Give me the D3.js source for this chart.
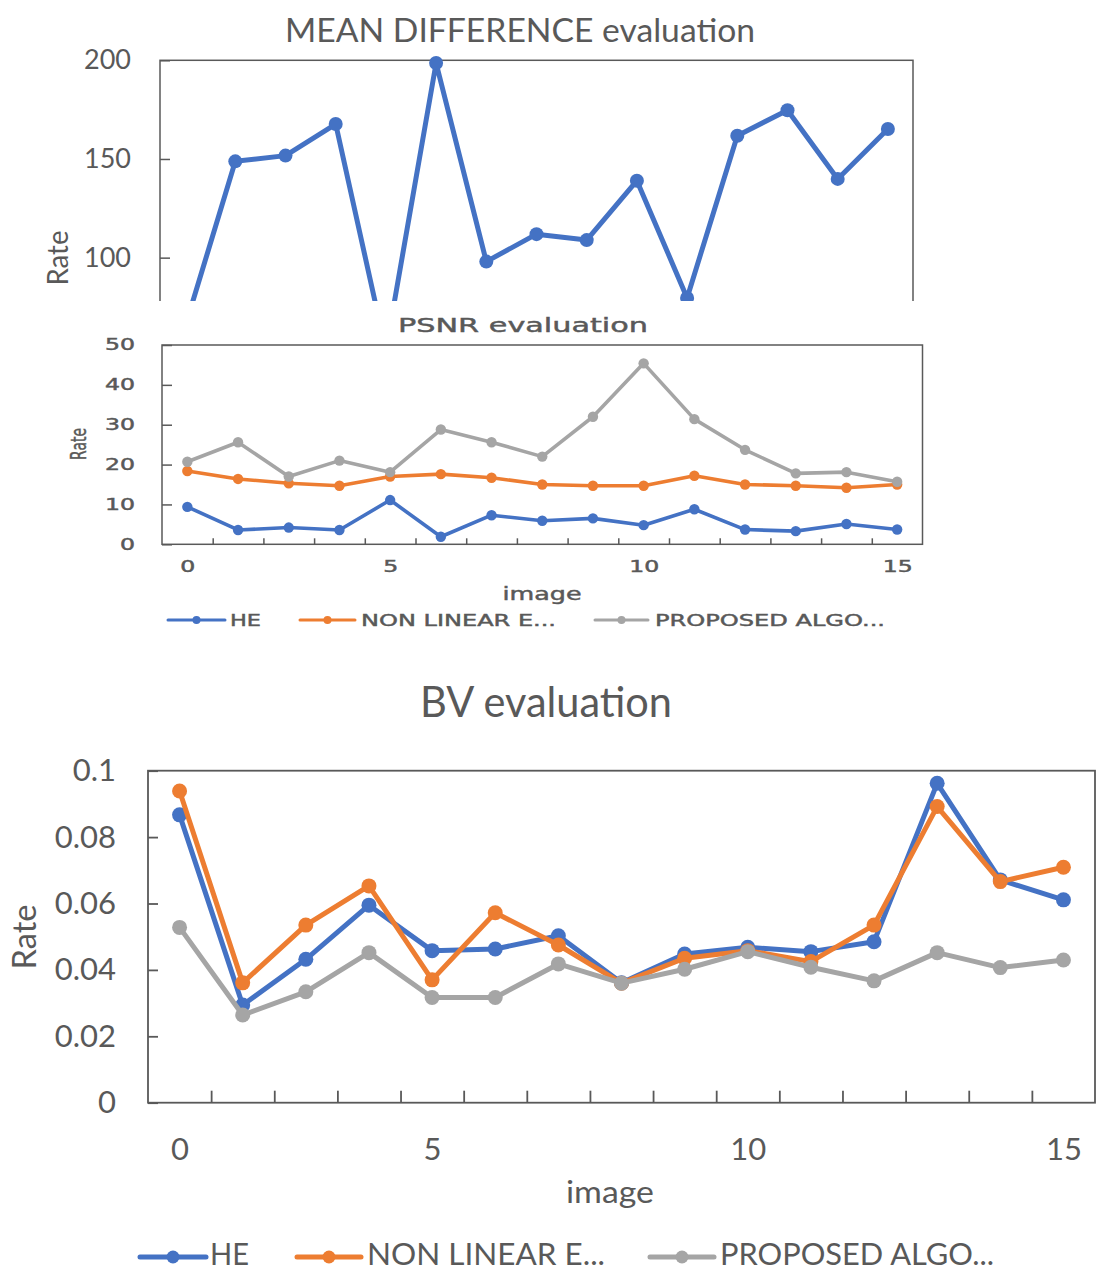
<!DOCTYPE html>
<html>
<head>
<meta charset="utf-8">
<script src="https://cdn.jsdelivr.net/npm/d3@7/dist/d3.min.js"></script>
<style>
  html, body { margin: 0; padding: 0; background: #fff; }
  svg { display: block; }
</style>
</head>
<body>
<svg id="chart" width="1097" height="1271"></svg>
<script>
// categories (image index) and the few that carry a label
const images = [0, 1, 2, 3, 4, 5, 6, 7, 8, 9, 10, 11, 12, 13, 14];
const labelledImages = [0, 4, 9, 14];
const imageLabels = ["0", "5", "10", "15"];

const seriesNames = ["HE", "NON LINEAR E...", "PROPOSED ALGO..."];
const seriesColors = ["#4472C4", "#ED7D31", "#A5A5A5"];

// MEAN DIFFERENCE (only the upper part of this chart is in the picture)
const meanDiffHE = [65, 148.8, 151.7, 167.7, 53, 198.6, 98, 111.9, 108.9, 139, 79.6, 161.8, 174.7, 139.9, 165.2];
const meanDiffRange = [0, 200];
const meanDiffTicks = [100, 150, 200];
const meanDiffTickLabels = ["100", "150", "200"];

// PSNR
const psnrHE = [9.4, 3.6, 4.2, 3.6, 11.1, 1.9, 7.3, 5.9, 6.5, 4.8, 8.8, 3.7, 3.3, 5.1, 3.7];
const psnrNL = [18.4, 16.4, 15.3, 14.7, 17.0, 17.6, 16.7, 15.0, 14.7, 14.7, 17.2, 15.0, 14.7, 14.2, 15.0];
const psnrPR = [20.7, 25.6, 17.0, 21.0, 18.1, 28.8, 25.6, 22.0, 32.0, 45.4, 31.4, 23.7, 17.8, 18.1, 15.7];
const psnrRange = [0, 50];
const psnrTicks = [0, 10, 20, 30, 40, 50];
const psnrTickLabels = ["0", "10", "20", "30", "40", "50"];

// BV
const bvHE = [0.0867, 0.0294, 0.0432, 0.0595, 0.0458, 0.0463, 0.0503, 0.0361, 0.0448, 0.0468, 0.0455, 0.0485, 0.0962, 0.0671, 0.0611];
const bvNL = [0.0939, 0.0361, 0.0535, 0.0653, 0.037, 0.0572, 0.0475, 0.036, 0.0435, 0.0458, 0.0425, 0.0535, 0.0892, 0.0666, 0.0709];
const bvPR = [0.0528, 0.0264, 0.0334, 0.0452, 0.0317, 0.0317, 0.0418, 0.036, 0.0402, 0.0455, 0.0408, 0.0367, 0.0452, 0.0407, 0.043];
const bvRange = [0, 0.1];
const bvTicks = [0, 0.02, 0.04, 0.06, 0.08, 0.1];
const bvTickLabels = ["0", "0.02", "0.04", "0.06", "0.08", "0.1"];

const svg = d3.select("#chart");
const textColor = "#595959";
const frameColor = "#595959";

// squeeze/stretch a text to a measured width
const fitText = (sel, width) => {
  if (width) sel.attr("textLength", width).attr("lengthAdjust", "spacingAndGlyphs");
};

const drawPanel = (p) => {
  const g = svg.append("g");
  if (p.clipBottom) {
    svg.append("clipPath").attr("id", p.id + "-clip")
      .append("rect")
      .attr("x", 0).attr("y", 0)
      .attr("width", 1097).attr("height", p.clipBottom);
    g.attr("clip-path", `url(#${p.id}-clip)`);
  }

  const x = d3.scaleLinear()
              .domain([-0.5, images.length - 0.5])
              .range([p.left, p.right]);
  const y = d3.scaleLinear()
              .domain(p.yDomain)
              .range([p.bottom, p.top]);

  g.append("rect")
    .attr("x", p.left)
    .attr("y", p.top)
    .attr("width", p.right - p.left)
    .attr("height", p.bottom - p.top)
    .attr("fill", "none")
    .attr("stroke", frameColor)
    .attr("stroke-width", p.frameWidth);

  // y axis, ticks pointing inwards
  const yAxis = g.append("g")
    .attr("transform", `translate(${p.left},0)`)
    .call(d3.axisLeft(y)
      .tickValues(p.yTicks)
      .tickFormat((d, i) => p.yLabels[i])
      .tickSizeInner(-p.yTickLen)
      .tickSizeOuter(0)
      .tickPadding(p.yPad));
  yAxis.select(".domain").remove();
  yAxis.attr("font-family", p.tickFamily).attr("font-size", p.tickFont);
  yAxis.selectAll("line").attr("stroke", frameColor).attr("stroke-width", p.frameWidth);
  yAxis.selectAll("text").attr("fill", textColor)
    .attr("stroke", p.textStroke ? textColor : null)
    .attr("stroke-width", p.textStroke || null)
    .each(function () {
      if (p.charWidth) fitText(d3.select(this), this.textContent.length * p.charWidth);
    });

  if (p.xLabels) {
    // tick marks sit on the category boundaries
    const xTicks = g.append("g")
      .attr("transform", `translate(0,${p.bottom})`)
      .call(d3.axisBottom(x)
        .tickValues(images.slice(1).map((d) => d - 0.5))
        .tickFormat("")
        .tickSizeInner(-p.xTickLen)
        .tickSizeOuter(0));
    xTicks.select(".domain").remove();
    xTicks.selectAll("line").attr("stroke", frameColor).attr("stroke-width", p.frameWidth);

    const xAxis = g.append("g")
      .attr("transform", `translate(0,${p.bottom})`)
      .call(d3.axisBottom(x)
        .tickValues(labelledImages)
        .tickFormat((d, i) => imageLabels[i])
        .tickSize(0)
        .tickPadding(p.xPad));
    xAxis.select(".domain").remove();
    xAxis.attr("font-family", p.tickFamily).attr("font-size", p.tickFont);
    xAxis.selectAll("text").attr("fill", textColor)
      .attr("stroke", p.textStroke ? textColor : null)
      .attr("stroke-width", p.textStroke || null)
      .each(function () {
        if (p.charWidth) fitText(d3.select(this), this.textContent.length * p.charWidth);
      });
  }

  const line = d3.line()
    .x((d, i) => x(images[i]))
    .y((d) => y(d));

  p.series.forEach((values, s) => {
    g.append("path")
      .datum(values)
      .attr("d", line)
      .attr("fill", "none")
      .attr("stroke", seriesColors[s])
      .attr("stroke-width", p.lineWidth)
      .attr("stroke-linejoin", "round")
      .attr("stroke-linecap", "round");
    g.append("g")
      .selectAll("circle")
      .data(values)
      .enter()
      .append("circle")
      .attr("cx", (d, i) => x(images[i]))
      .attr("cy", (d) => y(d))
      .attr("r", p.markerR)
      .attr("fill", seriesColors[s]);
  });

  const addText = (sel) => sel
    .attr("font-family", p.titleFamily)
    .attr("fill", textColor)
    .attr("stroke", p.textStroke ? textColor : null)
    .attr("stroke-width", p.textStroke || null);

  // chart title
  g.append("text")
    .attr("x", p.title.x)
    .attr("y", p.title.y)
    .attr("text-anchor", "middle")
    .attr("font-size", p.title.size)
    .call(addText)
    .text(p.title.text)
    .call(fitText, p.title.w);

  // y axis title
  g.append("text")
    .attr("transform", `translate(${p.yTitle.x},${p.yTitle.y}) rotate(-90)`)
    .attr("text-anchor", "middle")
    .attr("dominant-baseline", "central")
    .attr("font-size", p.yTitle.size)
    .call(addText)
    .text("Rate")
    .call(fitText, p.yTitle.w);

  if (p.xTitle) {
    g.append("text")
      .attr("x", p.xTitle.x)
      .attr("y", p.xTitle.y)
      .attr("text-anchor", "middle")
      .attr("font-size", p.xTitle.size)
      .call(addText)
      .text("image")
      .call(fitText, p.xTitle.w);
  }

  if (p.legend) {
    const lg = g.append("g")
      .selectAll("g")
      .data(p.legend.items)
      .enter()
      .append("g");
    lg.append("line")
      .attr("x1", (d) => d.x0)
      .attr("x2", (d) => d.x1)
      .attr("y1", p.legend.y)
      .attr("y2", p.legend.y)
      .attr("stroke", (d, i) => seriesColors[i])
      .attr("stroke-width", p.legend.lineWidth)
      .attr("stroke-linecap", "round");
    lg.append("circle")
      .attr("cx", (d) => (d.x0 + d.x1) / 2)
      .attr("cy", p.legend.y)
      .attr("r", p.legend.r)
      .attr("fill", (d, i) => seriesColors[i]);
    lg.append("text")
      .attr("x", (d) => d.tx)
      .attr("y", p.legend.baseline)
      .attr("font-size", p.legend.size)
      .call(addText)
      .text((d, i) => seriesNames[i])
      .attr("textLength", (d) => d.tw)
      .attr("lengthAdjust", "spacingAndGlyphs");
  }
};

drawPanel({
  id: "md",
  left: 160, right: 913, top: 60.3, bottom: 455,
  clipBottom: 301,
  yDomain: meanDiffRange, yTicks: meanDiffTicks, yLabels: meanDiffTickLabels,
  yTickLen: 10, yPad: 29,
  tickFamily: "Lato", tickFont: 27,
  titleFamily: "Lato",
  frameWidth: 1.5,
  lineWidth: 5, markerR: 7,
  series: [meanDiffHE],
  title: { text: "MEAN DIFFERENCE evaluation", x: 520, y: 42, size: 32, w: 470 },
  yTitle: { x: 57, y: 258, size: 28, w: 55 }
});

drawPanel({
  id: "psnr",
  left: 162, right: 922.5, top: 345, bottom: 544.3,
  yDomain: psnrRange, yTicks: psnrTicks, yLabels: psnrTickLabels,
  yTickLen: 10, yPad: 27,
  xLabels: true, xTickLen: 6, xPad: 17,
  tickFamily: "DejaVu Sans", tickFont: 15, charWidth: 15,
  titleFamily: "DejaVu Sans", textStroke: 0.45,
  frameWidth: 1.5,
  lineWidth: 3.6, markerR: 5.2,
  series: [psnrHE, psnrNL, psnrPR],
  title: { text: "PSNR evaluation", x: 523, y: 332, size: 20, w: 250 },
  yTitle: { x: 79, y: 444, size: 21, w: 32 },
  xTitle: { x: 542, y: 600, size: 17, w: 79 },
  legend: {
    y: 620, baseline: 626, size: 16, lineWidth: 3, r: 4,
    items: [
      { x0: 168, x1: 225, tx: 230, tw: 31 },
      { x0: 300, x1: 355, tx: 361, tw: 195 },
      { x0: 595, x1: 648, tx: 655, tw: 230 }
    ]
  }
});

drawPanel({
  id: "bv",
  left: 148, right: 1095, top: 770.7, bottom: 1102.7,
  yDomain: bvRange, yTicks: bvTicks, yLabels: bvTickLabels,
  yTickLen: 10, yPad: 32,
  xLabels: true, xTickLen: 12, xPad: 35,
  tickFamily: "Lato", tickFont: 31,
  titleFamily: "Lato",
  frameWidth: 1.8,
  lineWidth: 5, markerR: 7.5,
  series: [bvHE, bvNL, bvPR],
  title: { text: "BV evaluation", x: 546, y: 717, size: 42, w: 252 },
  yTitle: { x: 23, y: 937, size: 33, w: 65 },
  xTitle: { x: 610, y: 1203, size: 31, w: 88 },
  legend: {
    y: 1257, baseline: 1265, size: 30, lineWidth: 5, r: 6.5,
    items: [
      { x0: 140, x1: 206, tx: 210, tw: 39 },
      { x0: 297, x1: 361, tx: 367, tw: 238 },
      { x0: 650, x1: 714, tx: 720, tw: 274 }
    ]
  }
});
</script>
</body>
</html>
